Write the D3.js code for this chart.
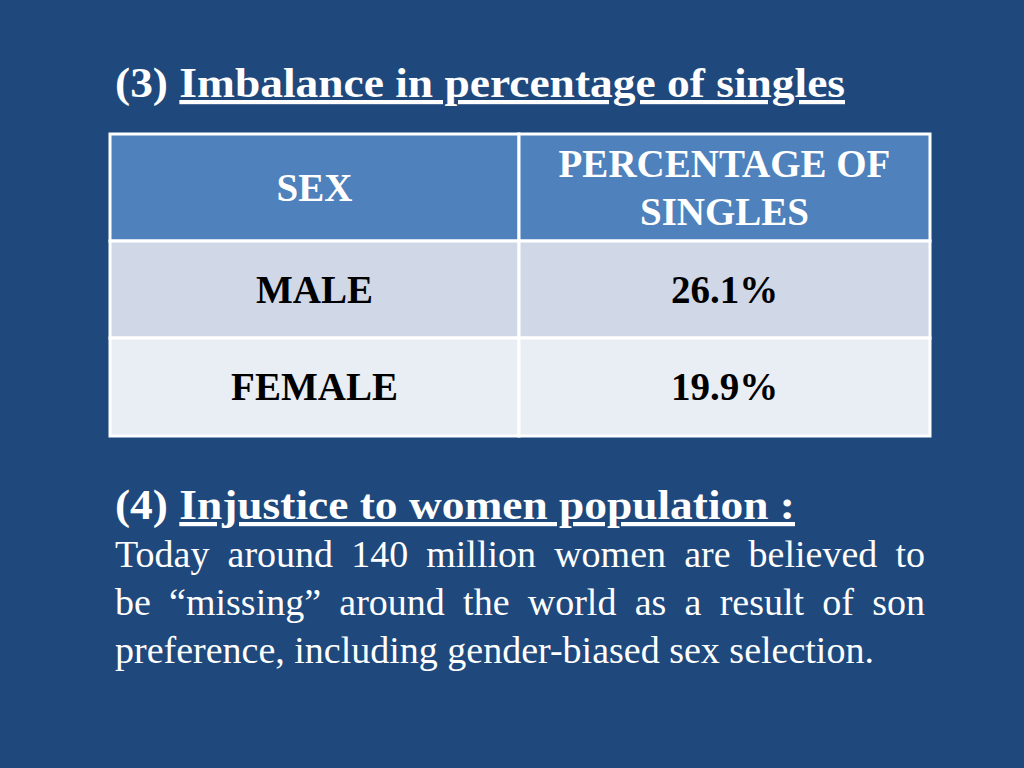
<!DOCTYPE html>
<html><head><meta charset="utf-8">
<script src="https://cdn.jsdelivr.net/npm/d3@7"></script>
<style>body{margin:0;background:#1f497d}</style>
</head><body>
<svg id="c" width="1024" height="768"></svg>
<script>
const headers = [["SEX"], ["PERCENTAGE OF", "SINGLES"]];
const sexes = ["MALE", "FEMALE"];
const singles = ["26.1%", "19.9%"];
const paraLines = [
  "Today around 140 million women are believed to",
  "be \u201cmissing\u201d around the world as a result of son",
  "preference, including gender-biased sex selection."
];

const svg = d3.select("#c");
const font = "'Liberation Serif', 'Times New Roman', serif";
svg.append("rect").attr("width", 1024).attr("height", 768).attr("fill", "#1f497d");

function heading(y, lead, rest, endX) {
  const t = svg.append("text").attr("x", 115).attr("y", y)
    .attr("font-family", font).attr("font-weight", "bold").attr("font-size", 42).attr("fill", "#fff")
    .attr("textLength", endX - 115).attr("lengthAdjust", "spacingAndGlyphs");
  t.append("tspan").text(lead);
  t.append("tspan").attr("text-decoration", "underline").text(rest);
}
heading(97, "(3) ", "Imbalance in percentage of singles", 845);

// table
const rows = ["head", ...sexes];
const x = d3.scaleLinear().domain([0, 2]).range([110, 930]);
const rowEdges = [134, 241, 338, 436];
const fills = ["#4f81bd", "#d0d8e8", "#e9edf4"];
const g = svg.append("g");
rows.forEach((r, i) => {
  [0, 1].forEach(j => {
    const x0 = j === 0 ? x(0) : 519, x1 = j === 0 ? 519 : x(2);
    g.append("rect").attr("x", x0).attr("y", rowEdges[i]).attr("width", x1 - x0)
      .attr("height", rowEdges[i + 1] - rowEdges[i]).attr("fill", fills[i])
      .attr("stroke", "#fff").attr("stroke-width", 3);
    const lines = i === 0 ? headers[j] : [j === 0 ? sexes[i - 1] : singles[i - 1]];
    const cy = (rowEdges[i] + rowEdges[i + 1]) / 2;
    lines.forEach((s, k) => {
      g.append("text").attr("x", (x0 + x1) / 2)
        .attr("y", cy + 13 + (k - (lines.length - 1) / 2) * 48)
        .attr("text-anchor", "middle").attr("font-family", font).attr("font-weight", "bold")
        .attr("font-size", 39).attr("fill", i === 0 ? "#fff" : "#000").text(s);
    });
  });
});

heading(519, "(4) ", "Injustice to women population :", 795);

const left = 115, right = 925;
paraLines.forEach((line, i) => {
  const y = 567 + i * 48;
  const words = line.split(" ");
  const justify = i < paraLines.length - 1;
  const tmp = words.map(w => svg.append("text").attr("font-family", font).attr("font-size", 38)
    .attr("fill", "#fff").attr("y", y).text(w));
  const widths = tmp.map(n => n.node().getComputedTextLength());
  const total = d3.sum(widths);
  const space = justify ? (right - left - total) / (words.length - 1) : 9.5;
  let cx = left;
  tmp.forEach((n, k) => { n.attr("x", cx); cx += widths[k] + space; });
});
</script>
</body></html>
